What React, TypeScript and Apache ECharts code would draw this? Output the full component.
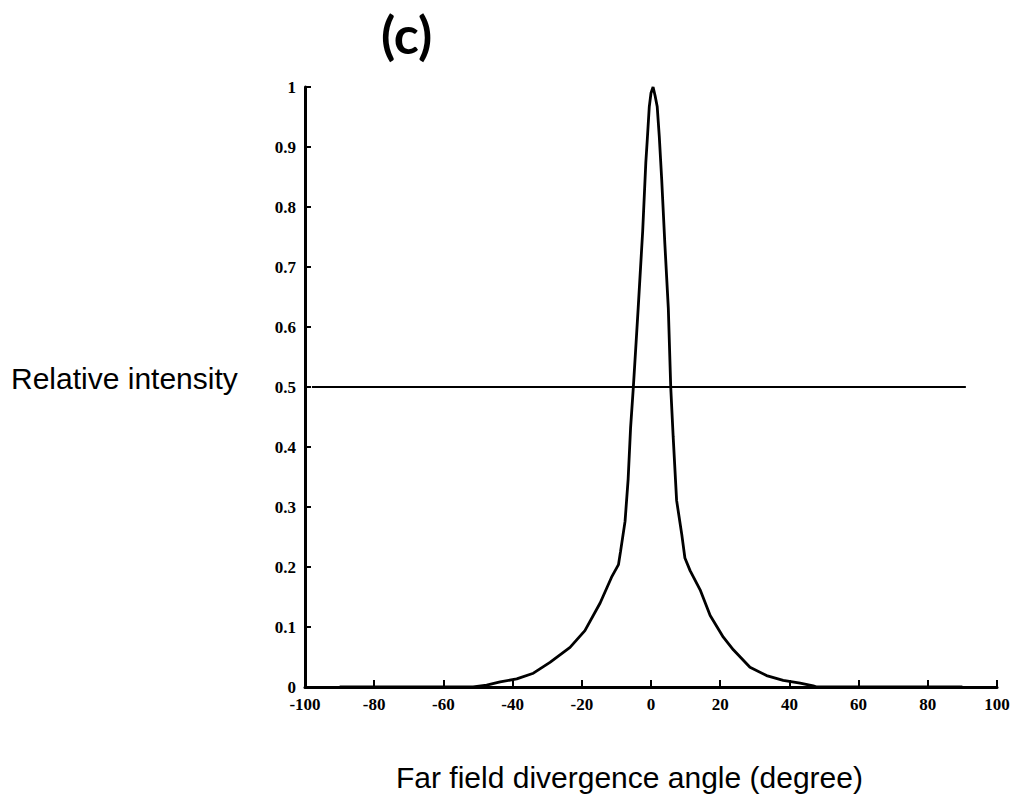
import React, { useEffect, useRef } from "react";
import * as echarts from "echarts";

// Far-field profile (angle in degrees, relative intensity)
const angles = [
  -90, -60, -51.4, -47.5, -43.6, -38.8, -34.0, -29.2, -23.4, -19.1, -14.7, -11.4, -9.4, -8.8,
  -7.5, -6.6, -5.9, -5.1, -4.3, -3.7, -2.4, -1.5, -1.1, -0.5, 0.0, 0.6, 1.2, 1.8, 2.4, 3.1,
  4.0, 5.0, 5.7, 6.4, 7.4, 8.9, 9.8, 11.3, 14.2, 17.1, 20.9, 23.8, 28.6, 33.4, 38.2, 43.1,
  46.9, 47.9, 60, 90,
];
const intensity = [
  0, 0, 0, 0.003, 0.0085, 0.0135, 0.023, 0.041, 0.066, 0.094, 0.14, 0.183, 0.204, 0.226,
  0.276, 0.347, 0.432, 0.5, 0.575, 0.632, 0.76, 0.874, 0.91, 0.967, 0.99, 1.0, 0.985, 0.967,
  0.917, 0.845, 0.739, 0.632, 0.5, 0.418, 0.311, 0.254, 0.215, 0.194, 0.162, 0.119, 0.083,
  0.062, 0.033, 0.019, 0.011, 0.0064, 0.002, 0, 0, 0,
];

// Half-maximum reference line
const halfLineX = [-98, 91];
const halfLineY = [0.5, 0.5];

const xTicks = { min: -100, max: 100, step: 20 };
const yTicks = { min: 0, max: 1, step: 0.1 };

const titleText = "(c)";
const yName = "Relative intensity";
const xName = "Far field divergence angle (degree)";

export default function App() {
  const ref = useRef<HTMLDivElement>(null);

  useEffect(() => {
    if (!ref.current) return;
    const chart = echarts.init(ref.current, null, { renderer: "svg" });
    const curve = angles.map((a, i) => [a, intensity[i]]);
    const half = halfLineX.map((a, i) => [a, halfLineY[i]]);
    const labelFont = {
      color: "#000",
      fontFamily: "Liberation Serif",
      fontWeight: "bold" as const,
      fontSize: 17,
    };
    chart.setOption({
      animation: false,
      backgroundColor: "#fff",
      grid: { left: 305, right: 22, top: 87, bottom: 122, containLabel: false },
      xAxis: {
        type: "value",
        min: xTicks.min,
        max: xTicks.max,
        interval: xTicks.step,
        axisLine: { show: true, onZero: false, lineStyle: { color: "#000", width: 3 } },
        axisTick: { show: true, inside: true, length: 7, lineStyle: { color: "#000", width: 2 } },
        splitLine: { show: false },
        axisLabel: { ...labelFont, margin: 9 },
      },
      yAxis: {
        type: "value",
        min: yTicks.min,
        max: yTicks.max,
        interval: yTicks.step,
        axisLine: { show: true, onZero: false, lineStyle: { color: "#000", width: 3 } },
        axisTick: { show: true, inside: true, length: 6, lineStyle: { color: "#000", width: 2 } },
        splitLine: { show: false },
        axisLabel: {
          ...labelFont,
          margin: 9,
          formatter: (v: number) => (v === 0 ? "0" : v === 1 ? "1" : v.toFixed(1)),
        },
      },
      series: [
        {
          type: "line",
          data: curve,
          showSymbol: false,
          lineStyle: { color: "#000", width: 2.8 },
          z: 3,
        },
        {
          type: "line",
          data: half,
          showSymbol: false,
          lineStyle: { color: "#000", width: 2 },
          z: 2,
        },
      ],
      graphic: [
        {
          type: "text",
          left: 381,
          top: 8,
          style: {
            text: titleText,
            fontFamily: "Lato",
            fontWeight: "bold",
            fontSize: 52,
            fill: "#000",
          },
        },
        {
          type: "text",
          left: 11,
          top: 363,
          style: {
            text: yName,
            fontFamily: "Liberation Sans",
            fontSize: 30,
            fill: "#000",
          },
        },
        {
          type: "text",
          left: 396,
          top: 762,
          style: {
            text: xName,
            fontFamily: "Liberation Sans",
            fontSize: 30,
            fill: "#000",
          },
        },
      ],
    });
    return () => chart.dispose();
  }, []);

  return (
    <div
      ref={ref}
      style={{ position: "absolute", left: 0, top: 0, width: 1019, height: 809 }}
    />
  );
}
